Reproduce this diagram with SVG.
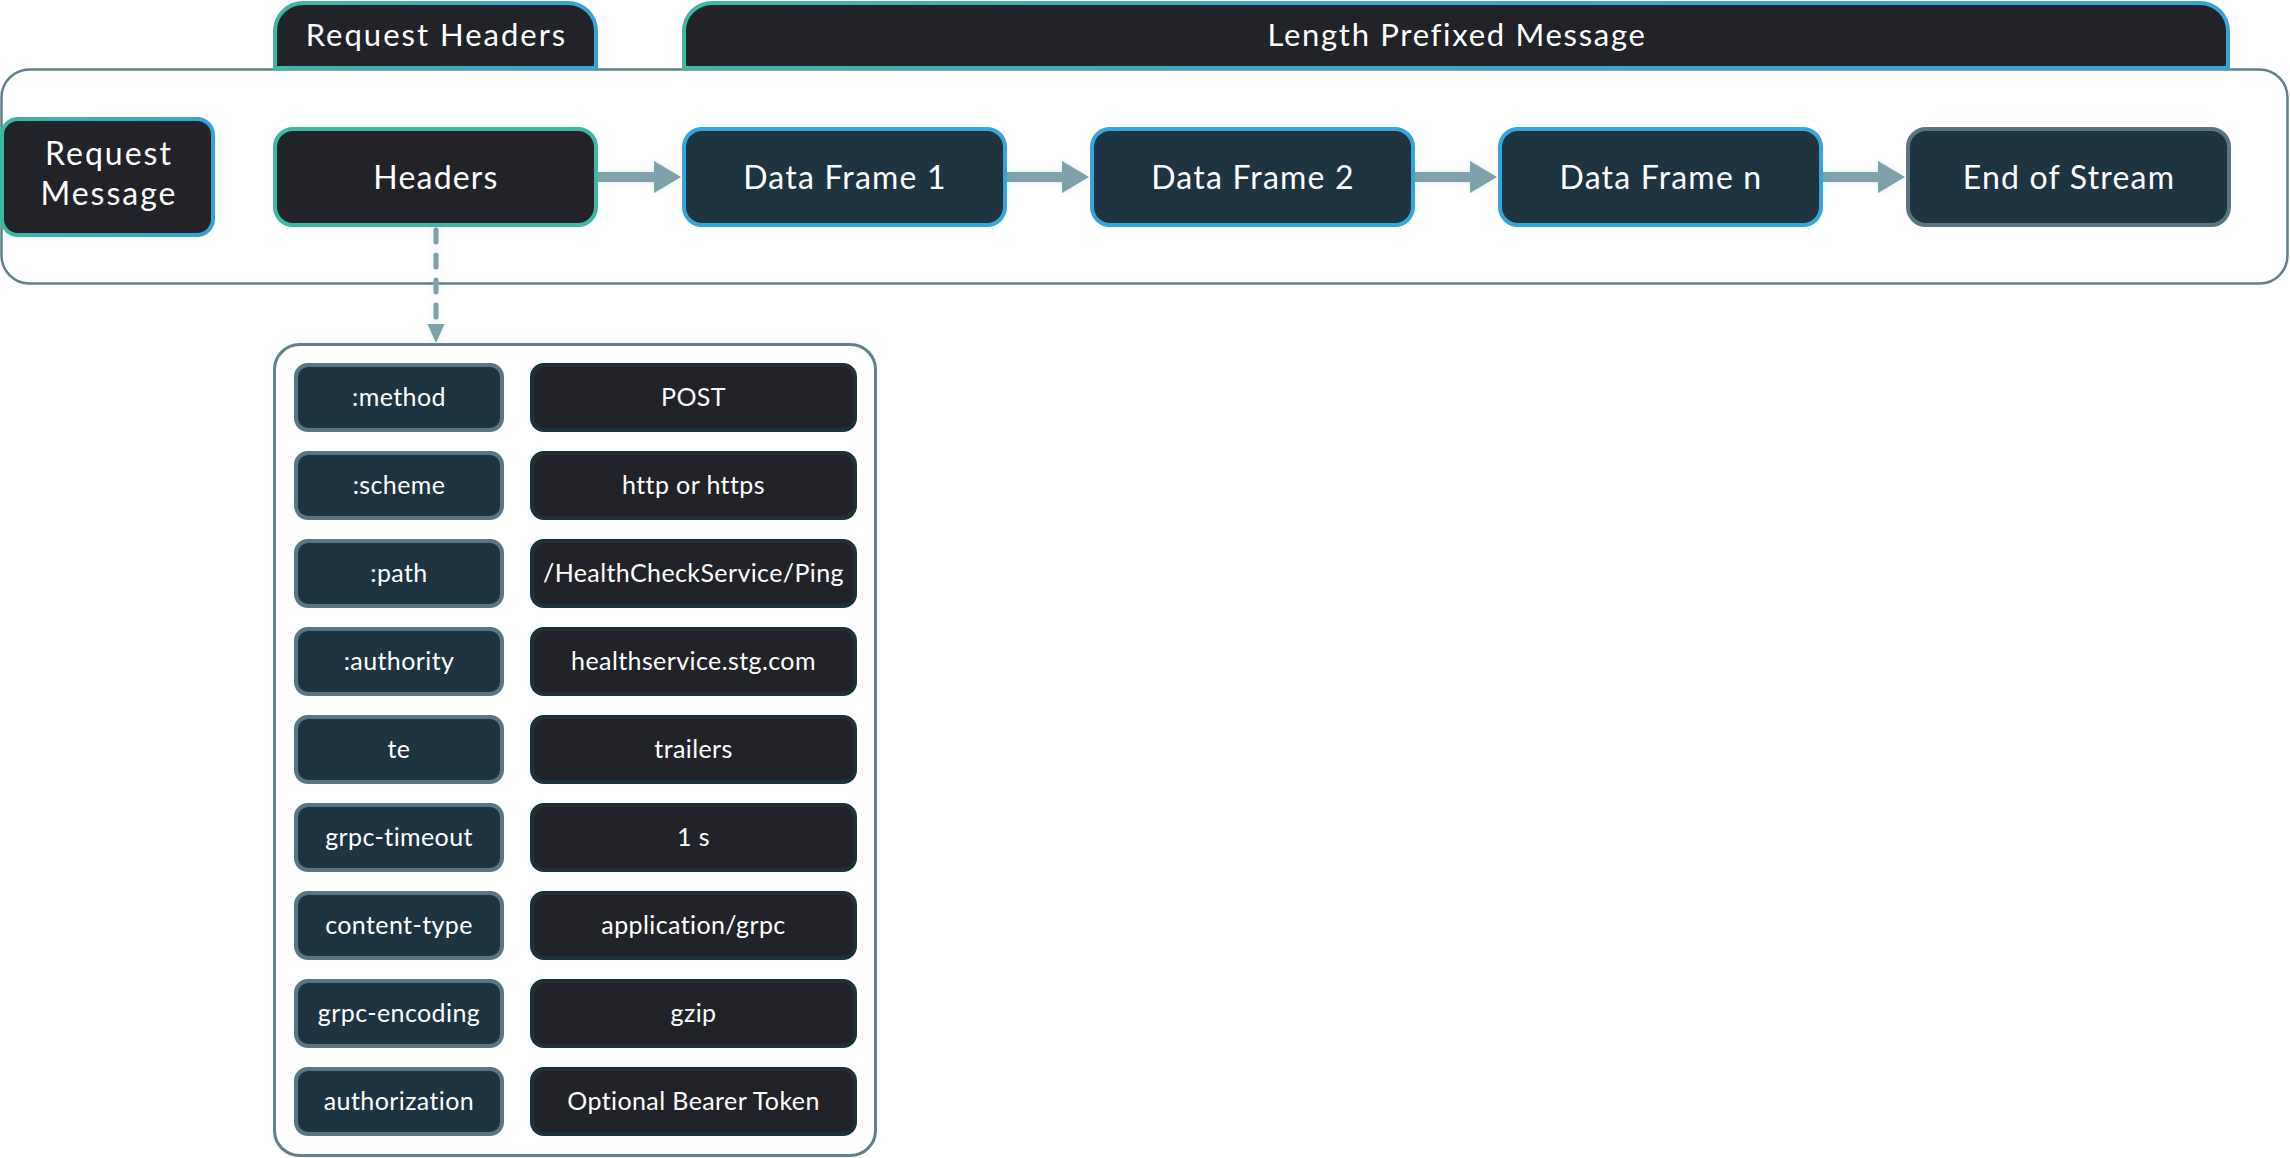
<svg xmlns="http://www.w3.org/2000/svg" width="2290" height="1158" viewBox="0 0 2290 1158">
<defs>
<linearGradient id="g1" x1="0" y1="0" x2="1" y2="0"><stop offset="0" stop-color="#3cb8a2"/><stop offset="1" stop-color="#36a3d8"/></linearGradient>
<linearGradient id="g2" x1="0" y1="0" x2="1" y2="0"><stop offset="0" stop-color="#3cb8a2"/><stop offset="0.35" stop-color="#38aac6"/><stop offset="1" stop-color="#35a4da"/></linearGradient>
<filter id="sh" x="-20%" y="-20%" width="140%" height="140%"><feDropShadow dx="0" dy="0" stdDeviation="3" flood-color="#7ea1aa" flood-opacity="0.25"/></filter>
</defs>
<style>
text{font-family:Lato,"Open Sans","Liberation Sans",sans-serif;fill:#ffffff;text-anchor:middle}
.tab text{font-size:31px}
.box{stroke-width:4}
.big{font-size:32px;letter-spacing:1.2px}
.k rect{fill:#1e3441;stroke:#5a7681;stroke-width:4}
.v rect{fill:#212328;stroke:#1d313b;stroke-width:4}
.k text,.v text{font-size:25px;letter-spacing:0.4px}
.arr{fill:#7ea1aa}
</style>
<rect x="1.5" y="69.5" width="2286" height="214" rx="28" fill="#ffffff" stroke="#62808a" stroke-width="2.5"/>

<g id="tab-request-headers" class="tab">
<path d="M275,68 V31 A28,28 0 0 1 303,3 H568 A28,28 0 0 1 596,31 V68 Z" fill="#212328" stroke="url(#g1)" stroke-width="4"/>
<text x="436.5" y="46" letter-spacing="2">Request Headers</text>
</g>
<g id="tab-length-prefixed" class="tab">
<path d="M684,68 V31 A28,28 0 0 1 712,3 H2200 A28,28 0 0 1 2228,31 V68 Z" fill="#212328" stroke="url(#g2)" stroke-width="4"/>
<text x="1457" y="46" letter-spacing="1.7">Length Prefixed Message</text>
</g>

<g id="request-message">
<rect x="2" y="119" width="211" height="116" rx="16" fill="#212328" stroke="url(#g1)" stroke-width="4"/>
<text x="109" y="165" font-size="32" letter-spacing="2">Request</text>
<text x="109" y="205" font-size="32" letter-spacing="2">Message</text>
</g>

<g id="connectors" filter="url(#sh)">
<path class="arr" d="M598,172 H654 V161 L681,177 L654,193 V182 H598 Z"/>
<path class="arr" d="M1007,172 H1062 V161 L1089,177 L1062,193 V182 H1007 Z"/>
<path class="arr" d="M1415,172 H1470 V161 L1497,177 L1470,193 V182 H1415 Z"/>
<path class="arr" d="M1823,172 H1878 V161 L1905,177 L1878,193 V182 H1823 Z"/>
<line x1="436" y1="230" x2="436" y2="320" stroke="#7ea1aa" stroke-width="5" stroke-linecap="round" stroke-dasharray="12 13"/>
<path class="arr" d="M427.5,324 L444.5,324 L436,343 Z"/>
</g>

<g id="headers">
<rect class="box" x="275" y="129" width="321" height="96" rx="18" fill="#212328" stroke="#3cb8a4"/>
<text class="big" x="436" y="189">Headers</text>
</g>
<g id="data-frame-1">
<rect class="box" x="684" y="129" width="321" height="96" rx="18" fill="#1e3441" stroke="#35a5da"/>
<text class="big" x="845" y="189">Data Frame 1</text>
</g>
<g id="data-frame-2">
<rect class="box" x="1092" y="129" width="321" height="96" rx="18" fill="#1e3441" stroke="#35a5da"/>
<text class="big" x="1253" y="189">Data Frame 2</text>
</g>
<g id="data-frame-n">
<rect class="box" x="1500" y="129" width="321" height="96" rx="18" fill="#1e3441" stroke="#35a5da"/>
<text class="big" x="1661" y="189">Data Frame n</text>
</g>
<g id="end-of-stream">
<rect class="box" x="1908" y="129" width="321" height="96" rx="18" fill="#1e3441" stroke="#587580"/>
<text class="big" x="2069" y="189">End of Stream</text>
</g>

<g id="headers-detail">
<rect x="274.5" y="344.5" width="601" height="811" rx="25" fill="#ffffff" stroke="#62808a" stroke-width="3"/>
<g class="k">
<rect x="296" y="365" width="206" height="65" rx="12"/><text x="399" y="406">:method</text>
<rect x="296" y="453" width="206" height="65" rx="12"/><text x="399" y="494">:scheme</text>
<rect x="296" y="541" width="206" height="65" rx="12"/><text x="399" y="582">:path</text>
<rect x="296" y="629" width="206" height="65" rx="12"/><text x="399" y="670">:authority</text>
<rect x="296" y="717" width="206" height="65" rx="12"/><text x="399" y="758">te</text>
<rect x="296" y="805" width="206" height="65" rx="12"/><text x="399" y="846">grpc-timeout</text>
<rect x="296" y="893" width="206" height="65" rx="12"/><text x="399" y="934">content-type</text>
<rect x="296" y="981" width="206" height="65" rx="12"/><text x="399" y="1022">grpc-encoding</text>
<rect x="296" y="1069" width="206" height="65" rx="12"/><text x="399" y="1110">authorization</text>
</g>
<g class="v">
<rect x="532" y="365" width="323" height="65" rx="12"/><text x="693.5" y="406">POST</text>
<rect x="532" y="453" width="323" height="65" rx="12"/><text x="693.5" y="494">http or https</text>
<rect x="532" y="541" width="323" height="65" rx="12"/><text x="693.5" y="582">/HealthCheckService/Ping</text>
<rect x="532" y="629" width="323" height="65" rx="12"/><text x="693.5" y="670">healthservice.stg.com</text>
<rect x="532" y="717" width="323" height="65" rx="12"/><text x="693.5" y="758">trailers</text>
<rect x="532" y="805" width="323" height="65" rx="12"/><text x="693.5" y="846">1 s</text>
<rect x="532" y="893" width="323" height="65" rx="12"/><text x="693.5" y="934">application/grpc</text>
<rect x="532" y="981" width="323" height="65" rx="12"/><text x="693.5" y="1022">gzip</text>
<rect x="532" y="1069" width="323" height="65" rx="12"/><text x="693.5" y="1110">Optional Bearer Token</text>
</g>
</g>
</svg>
